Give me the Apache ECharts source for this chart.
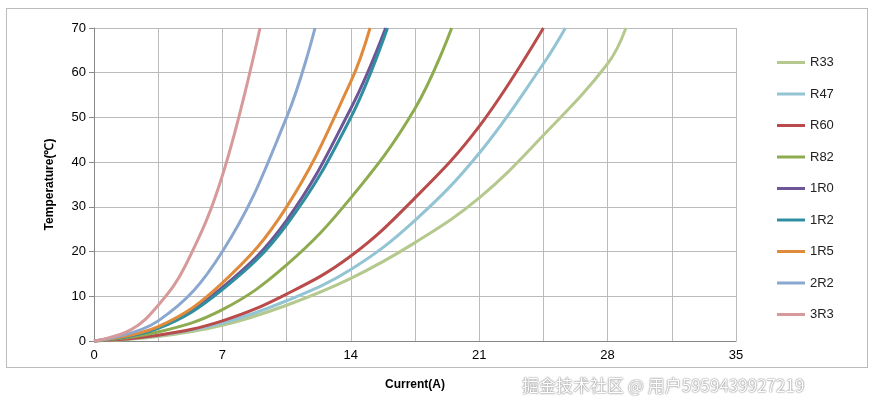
<!DOCTYPE html>
<html><head><meta charset="utf-8">
<script src="https://cdn.jsdelivr.net/npm/echarts@6/dist/echarts.min.js"></script>
<style>html,body{margin:0;background:#fff}#c{width:877px;height:409px}
#wm{position:absolute;left:522px;top:372px;font:17px "Noto Sans CJK SC";color:#fff;text-shadow:0 0 2px #888,0 0 1px #666}
#fr{position:absolute;left:6px;top:8px;width:860px;height:358px;border:1px solid #bbb}</style>
</head><body><div id="fr"></div><div id="c"></div><div id="wm">掘金技术社区 @ 用户5959439927219</div>
<script>
// current (A) / temperature (°C) pairs
const names = ['R33', 'R47', 'R60', 'R82', '1R0', '1R2', '1R5', '2R2', '3R3'];
const colors = ['#b5c98e', '#93c4d3', '#b94b4a', '#8fab4f', '#6e5696', '#2f8fa1', '#e08a3c', '#8aa7cf', '#d79a9a'];
const R33 = [[0,0],[3.5,1],[7,3.5],[10.5,8],[14,14],[17.5,22],[21,32],[24.5,46],[28,62],[29,70]];
const R47 = [[0,0],[3.5,1.2],[7,4],[10.5,9],[14,16],[17.5,27],[21,42],[24.5,62],[25.7,70]];
const R60 = [[0,0],[3.5,1.3],[7,4.5],[10.5,10.5],[14,19],[17.5,32],[21,48],[24.5,70]];
const R82 = [[0,0],[3.5,2],[7,7],[10.5,17],[14,32],[17.5,52],[19.5,70]];
const R1R0 = [[0,0],[3.5,3],[7,12],[10.5,27],[14,52],[15.9,70]];
const R1R2 = [[0,0],[3.5,2.8],[7,11.5],[10.5,26],[14,50],[16,70]];
const R1R5 = [[0,0],[3.5,3.2],[7,13],[10.5,30],[14,58],[15.05,70]];
const R2R2 = [[0,0],[3.5,4.5],[7,20],[10.5,50],[12.05,70]];
const R3R3 = [[0,0],[2,2.5],[3.5,8],[5,17],[7,37],[9.05,70]];
const seriesData = [R33, R47, R60, R82, R1R0, R1R2, R1R5, R2R2, R3R3];

const chart = echarts.init(document.getElementById('c'));
chart.setOption({
  animation: false,
  textStyle: { fontFamily: 'Liberation Sans' },
  grid: { left: 94, right: 141, top: 28, bottom: 68 },
  legend: {
    orient: 'vertical', left: 772, top: 51, itemGap: 18.5, itemWidth: 28, itemHeight: 3,
    icon: 'rect', textStyle: { fontSize: 13, color: '#222' }
  },
  xAxis: {
    type: 'value', min: 0, max: 35, interval: 7,
    name: 'Current(A)', nameLocation: 'middle', nameGap: 38,
    nameTextStyle: { fontWeight: 'bold', fontSize: 12, color: '#000' },
    axisLine: { lineStyle: { color: '#888' } },
    axisTick: { show: false },
    axisLabel: { color: '#000', fontSize: 13 },
    splitLine: { lineStyle: { color: '#bbb' } },
    minorTick: { show: false, splitNumber: 2 },
    minorSplitLine: { show: true, lineStyle: { color: '#bbb' } }
  },
  yAxis: {
    type: 'value', min: 0, max: 70, interval: 10,
    name: 'Temperature(℃)', nameLocation: 'middle', nameGap: 38,
    nameTextStyle: { fontWeight: 'bold', fontSize: 12, color: '#000' },
    axisLine: { show: true, lineStyle: { color: '#888' } },
    axisLabel: { color: '#000', fontSize: 13 },
    splitLine: { lineStyle: { color: '#bbb' } }
  },
  series: names.map((n, i) => ({
    name: n, type: 'line', smooth: 0.4, showSymbol: false, data: seriesData[i],
    lineStyle: { width: 3, color: colors[i] }, itemStyle: { color: colors[i] }
  }))
});
</script></body></html>
